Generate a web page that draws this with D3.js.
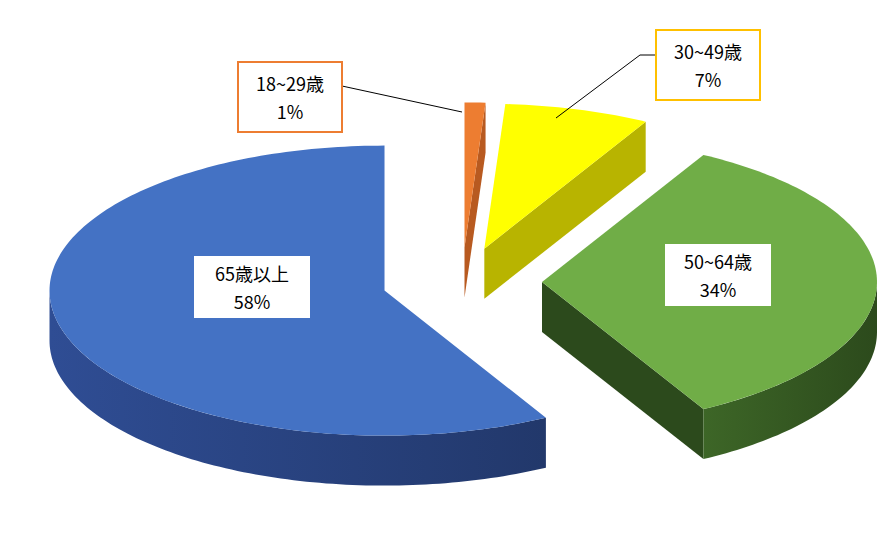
<!DOCTYPE html>
<html>
<head>
<meta charset="utf-8">
<script src="https://cdn.jsdelivr.net/npm/d3@7"></script>
<style>
  body { margin: 0; background: #fff; }
  text { font-family: "Noto Sans CJK TC", "Noto Sans", sans-serif; font-size: 18px; }
</style>
</head>
<body>
<svg id="chart" width="896" height="554"></svg>
<script>
var categories = ['18~29歳', '30~49歳', '50~64歳', '65歳以上'];
var values = [1, 7, 34, 58];
var topColors = ['#ED7D31', '#FFFF00', '#70AD47', '#4472C4'];
var wallColors = ['#b85a20', '#b8b400', '#2c4a1c', '#22386b'];

var svg = d3.select('#chart');
var cx = 462, cy = 282, rx = 335, ry = 145, depth = 50, explode = 80;

var pie = d3.pie().sort(null).value(function(d) { return d; });
var arcs = pie(values);

// angle -> screen point on ellipse, measured clockwise from top
function pt(ox, oy, a, r, dz) {
    return [ox + rx * r * Math.sin(a), oy - ry * r * Math.cos(a) + (dz || 0)];
}
function arcPts(ox, oy, a0, a1, dz) {
    var n = Math.max(2, Math.ceil((a1 - a0) / 0.02));
    return d3.range(n + 1).map(function(i) { return pt(ox, oy, a0 + (a1 - a0) * i / n, 1, dz); });
}
var line = d3.line();

var defs = svg.append('defs');
var slices = arcs.map(function(a, i) {
    var mid = (a.startAngle + a.endAngle) / 2;
    return {
        i: i, a0: a.startAngle, a1: a.endAngle, mid: mid,
        ox: cx + explode * Math.sin(mid),
        oy: cy - explode * Math.cos(mid) * ry / rx
    };
});

// paint back slices first
var order = slices.slice().sort(function(p, q) { return p.oy - q.oy; });

order.forEach(function(s) {
    var g = svg.append('g');
    var i = s.i;
    var gid = 'wall' + i;
    var gr = defs.append('linearGradient').attr('id', gid).attr('x1', '0%').attr('x2', '100%');
    gr.append('stop').attr('offset', '0%').attr('stop-color', d3.color(wallColors[i]).brighter(0.9));
    gr.append('stop').attr('offset', '100%').attr('stop-color', wallColors[i]);

    var apex = [s.ox, s.oy], apexB = [s.ox, s.oy + depth];
    // radial walls
    if (Math.sin(s.a0) < -1e-6) {
        var r0 = pt(s.ox, s.oy, s.a0, 1), r0b = pt(s.ox, s.oy, s.a0, 1, depth);
        g.append('path').attr('d', line([apex, r0, r0b, apexB]) + 'Z').attr('fill', wallColors[i]);
    }
    if (Math.sin(s.a1) > -1e-6) {
        var r1 = pt(s.ox, s.oy, s.a1, 1), r1b = pt(s.ox, s.oy, s.a1, 1, depth);
        g.append('path').attr('d', line([apex, r1, r1b, apexB]) + 'Z').attr('fill', wallColors[i]);
    }
    // outer wall on the front half
    var f0 = Math.max(s.a0, Math.PI / 2), f1 = Math.min(s.a1, Math.PI * 1.5);
    if (f1 > f0) {
        var top = arcPts(s.ox, s.oy, f0, f1, 0);
        var bot = arcPts(s.ox, s.oy, f0, f1, depth).reverse();
        g.append('path').attr('d', line(top.concat(bot)) + 'Z')
            .attr('fill', 'url(#' + gid + ')');
    }
    // top face
    g.append('path').attr('d', line([apex].concat(arcPts(s.ox, s.oy, s.a0, s.a1, 0))) + 'Z')
        .attr('fill', topColors[i]);
});

function label(x, y, w, h, cat, v, border) {
    var g = svg.append('g');
    g.append('rect').attr('x', x - w / 2).attr('y', y - h / 2).attr('width', w).attr('height', h)
        .attr('fill', '#fff').attr('stroke', border || 'none').attr('stroke-width', 2);
    g.append('text').attr('x', x).attr('y', y - 6).attr('text-anchor', 'middle').text(cat);
    g.append('text').attr('x', x).attr('y', y + 22).attr('text-anchor', 'middle').text(v + '%');
}

// leader lines
svg.append('path').attr('d', 'M342,86L462,112').attr('stroke', '#000').attr('fill', 'none');
svg.append('path').attr('d', 'M657,55L640,55L556,118').attr('stroke', '#000').attr('fill', 'none');

label(290, 97, 104, 70, categories[0], values[0], '#ED7D31');
label(708, 65, 104, 70, categories[1], values[1], '#FFC000');
label(718, 275, 106, 62, categories[2], values[2]);
label(252, 287, 116, 62, categories[3], values[3]);
</script>
</body>
</html>
